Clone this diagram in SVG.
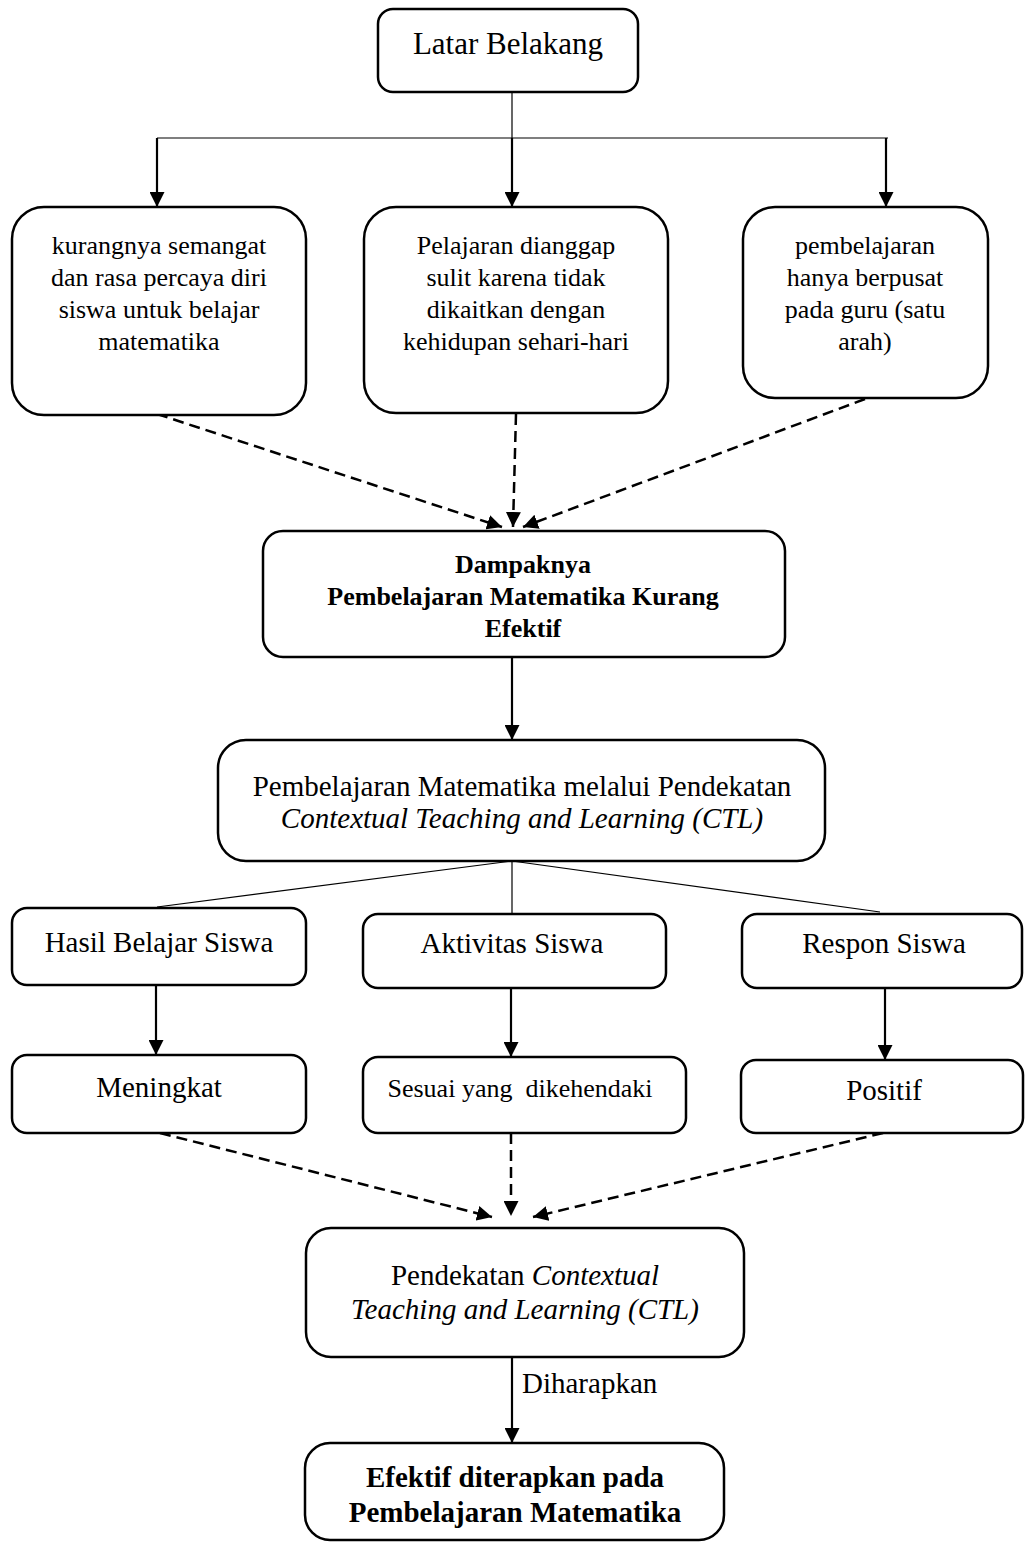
<svg xmlns="http://www.w3.org/2000/svg" width="1025" height="1547" viewBox="0 0 1025 1547">
<style>
.box{fill:#fff;stroke:#000;stroke-width:2.5}
.t{font-family:"Liberation Serif","Times New Roman",serif;fill:#000;text-anchor:middle}
.s26{font-size:26px}
.s29{font-size:29px}
.b{font-weight:bold}
.i{font-style:italic}
.thin{stroke:#000;stroke-width:1.2;fill:none}
.solid{stroke:#000;stroke-width:2.2;fill:none}
.dash{stroke:#000;stroke-width:2.5;fill:none;stroke-dasharray:11 6}
</style>
<defs>
<marker id="ah" viewBox="0 0 15 15" markerUnits="userSpaceOnUse" markerWidth="15" markerHeight="15" refX="15" refY="7.5" orient="auto">
<path d="M0,0 L15,7.5 L0,15 z" fill="#000"/>
</marker>
</defs>
<rect width="1025" height="1547" fill="#fff"/>

<g id="connectors">
<line class="thin" x1="512" y1="92" x2="512" y2="138"/>
<line class="thin" x1="157" y1="138" x2="888" y2="138"/>
<line class="solid" x1="157" y1="138" x2="157" y2="207" marker-end="url(#ah)"/>
<line class="solid" x1="512" y1="138" x2="512" y2="207" marker-end="url(#ah)"/>
<line class="solid" x1="886" y1="138" x2="886" y2="207" marker-end="url(#ah)"/>
<line class="dash" x1="157" y1="414" x2="502" y2="527" marker-end="url(#ah)"/>
<line class="dash" x1="516" y1="414" x2="513" y2="527" marker-end="url(#ah)"/>
<line class="dash" x1="865" y1="399" x2="523" y2="527" marker-end="url(#ah)"/>
<line class="solid" x1="512" y1="657" x2="512" y2="740" marker-end="url(#ah)"/>
<line class="thin" x1="512" y1="861" x2="157" y2="907"/>
<line class="thin" x1="512" y1="861" x2="512" y2="913"/>
<line class="thin" x1="512" y1="861" x2="880" y2="912"/>
<line class="solid" x1="156" y1="985" x2="156" y2="1055" marker-end="url(#ah)"/>
<line class="solid" x1="511" y1="988" x2="511" y2="1057" marker-end="url(#ah)"/>
<line class="solid" x1="885" y1="988" x2="885" y2="1060" marker-end="url(#ah)"/>
<line class="dash" x1="160" y1="1133" x2="492" y2="1217" marker-end="url(#ah)"/>
<line class="dash" x1="511" y1="1133" x2="511" y2="1216" marker-end="url(#ah)"/>
<line class="dash" x1="883" y1="1133" x2="533" y2="1217" marker-end="url(#ah)"/>
<line class="solid" x1="512" y1="1357" x2="512" y2="1443" marker-end="url(#ah)"/>
<text class="t s29" x="522" y="1393" style="text-anchor:start">Diharapkan</text>
</g>

<g id="latar">
<rect class="box" x="378" y="9" width="260" height="83" rx="15"/>
<text class="t" x="508" y="54" font-size="31">Latar Belakang</text>
</g>

<g id="sebab1">
<rect class="box" x="12" y="207" width="294" height="208" rx="32"/>
<text class="t s26" x="159"><tspan x="159" y="254">kurangnya semangat</tspan><tspan x="159" y="286">dan rasa percaya diri</tspan><tspan x="159" y="318">siswa untuk belajar</tspan><tspan x="159" y="350">matematika</tspan></text>
</g>

<g id="sebab2">
<rect class="box" x="364" y="207" width="304" height="206" rx="32"/>
<text class="t s26" x="516"><tspan x="516" y="254">Pelajaran dianggap</tspan><tspan x="516" y="286">sulit karena tidak</tspan><tspan x="516" y="318">dikaitkan dengan</tspan><tspan x="516" y="350">kehidupan sehari-hari</tspan></text>
</g>

<g id="sebab3">
<rect class="box" x="743" y="207" width="245" height="191" rx="32"/>
<text class="t s26" x="865"><tspan x="865" y="254">pembelajaran</tspan><tspan x="865" y="286">hanya berpusat</tspan><tspan x="865" y="318">pada guru (satu</tspan><tspan x="865" y="350">arah)</tspan></text>
</g>

<g id="dampak">
<rect class="box" x="263" y="531" width="522" height="126" rx="20"/>
<text class="t s26 b" x="523"><tspan x="523" y="573">Dampaknya</tspan><tspan x="523" y="605">Pembelajaran Matematika Kurang</tspan><tspan x="523" y="637">Efektif</tspan></text>
</g>

<g id="ctl">
<rect class="box" x="218" y="740" width="607" height="121" rx="28"/>
<text class="t s29" x="522" y="796">Pembelajaran Matematika melalui Pendekatan</text>
<text class="t s29 i" x="522" y="828">Contextual Teaching and Learning (CTL)</text>
</g>

<g id="hasil">
<rect class="box" x="12" y="908" width="294" height="77" rx="15"/>
<text class="t s29" x="159" y="952">Hasil Belajar Siswa</text>
</g>

<g id="aktivitas">
<rect class="box" x="363" y="914" width="303" height="74" rx="15"/>
<text class="t s29" x="512" y="953">Aktivitas Siswa</text>
</g>

<g id="respon">
<rect class="box" x="742" y="914" width="280" height="74" rx="15"/>
<text class="t s29" x="884" y="953">Respon Siswa</text>
</g>

<g id="meningkat">
<rect class="box" x="12" y="1055" width="294" height="78" rx="15"/>
<text class="t s29" x="159" y="1097">Meningkat</text>
</g>

<g id="sesuai">
<rect class="box" x="363" y="1057" width="323" height="76" rx="15"/>
<text class="t s26" x="520" y="1097" xml:space="preserve">Sesuai yang  dikehendaki</text>
</g>

<g id="positif">
<rect class="box" x="741" y="1060" width="282" height="73" rx="15"/>
<text class="t s29" x="884" y="1100">Positif</text>
</g>

<g id="pendekatan">
<rect class="box" x="306" y="1228" width="438" height="129" rx="25"/>
<text class="t s29" x="525" y="1285">Pendekatan <tspan class="i">Contextual</tspan></text>
<text class="t s29 i" x="525" y="1319">Teaching and Learning (CTL)</text>
</g>

<g id="efektif">
<rect class="box" x="305" y="1443" width="419" height="97" rx="25"/>
<text class="t s29 b" x="515"><tspan x="515" y="1487">Efektif diterapkan pada</tspan><tspan x="515" y="1522">Pembelajaran Matematika</tspan></text>
</g>
</svg>
